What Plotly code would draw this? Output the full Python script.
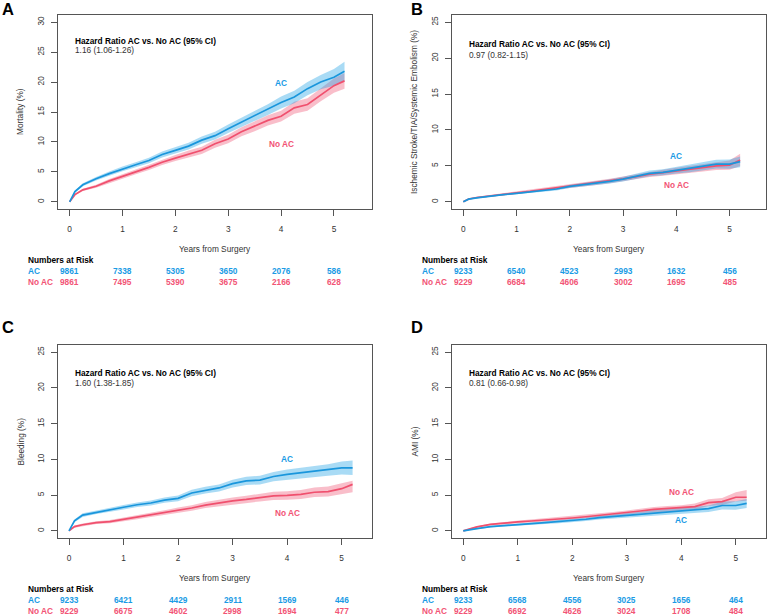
import plotly.graph_objects as go

W, H = 768, 615

# ---------------- data ----------------
times = [0, 0.1, 0.25, 0.5, 0.75, 1, 1.25, 1.5, 1.75, 2, 2.25, 2.5, 2.75,
         3, 3.25, 3.5, 3.75, 4, 4.25, 4.5, 4.75, 5, 5.2]

# Panel A - Mortality
A_ac     = [0, 1.7, 2.85, 3.85, 4.7, 5.5, 6.2, 6.9, 7.9, 8.6, 9.3, 10.3, 11.05,
            12.2, 13.3, 14.3, 15.4, 16.6, 17.5, 18.9, 20.0, 20.8, 21.8]
A_ac_lo  = [0, 1.5, 2.6, 3.55, 4.35, 5.1, 5.8, 6.45, 7.4, 8.1, 8.75, 9.7, 10.4,
            11.5, 12.55, 13.5, 14.5, 15.6, 16.45, 17.8, 18.8, 19.4, 20.2]
A_ac_hi  = [0, 1.9, 3.1, 4.15, 5.05, 5.9, 6.6, 7.35, 8.4, 9.1, 9.85, 10.9, 11.7,
            12.9, 14.05, 15.1, 16.3, 17.6, 18.55, 20.0, 21.2, 22.2, 23.4]
A_no     = [0, 1.2, 2.0, 2.6, 3.5, 4.2, 5.0, 5.75, 6.6, 7.3, 8.0, 8.6, 9.7,
            10.5, 11.7, 12.6, 13.6, 14.3, 15.7, 16.25, 17.9, 19.4, 20.2]
A_no_lo  = [0, 1.05, 1.8, 2.35, 3.2, 3.85, 4.6, 5.3, 6.15, 6.8, 7.45, 8.0, 9.05,
            9.8, 10.95, 11.8, 12.75, 13.4, 14.7, 15.2, 16.8, 18.2, 18.9]
A_no_hi  = [0, 1.35, 2.2, 2.85, 3.8, 4.55, 5.4, 6.2, 7.05, 7.8, 8.55, 9.2, 10.35,
            11.2, 12.45, 13.4, 14.45, 15.2, 16.7, 17.3, 19.0, 20.6, 21.5]

# Panel B - Ischemic stroke / TIA / systemic embolism
B_ac     = [0, 0.37, 0.56, 0.8, 1.0, 1.17, 1.36, 1.6, 1.78, 2.15, 2.35, 2.6, 2.85,
            3.15, 3.55, 3.95, 4.1, 4.4, 4.6, 4.9, 5.25, 5.25, 5.6]
B_ac_lo  = [0, 0.3, 0.47, 0.7, 0.88, 1.03, 1.2, 1.42, 1.58, 1.93, 2.1, 2.33, 2.55,
            2.82, 3.18, 3.55, 3.68, 3.95, 4.1, 4.35, 4.65, 4.6, 4.8]
B_ac_hi  = [0, 0.44, 0.65, 0.9, 1.12, 1.31, 1.52, 1.78, 1.98, 2.37, 2.6, 2.87, 3.15,
            3.48, 3.92, 4.35, 4.52, 4.85, 5.1, 5.45, 5.85, 5.9, 6.3]
B_no     = [0, 0.4, 0.6, 0.85, 1.05, 1.25, 1.45, 1.7, 1.95, 2.2, 2.4, 2.6, 2.9,
            3.2, 3.5, 3.85, 4.05, 4.3, 4.5, 4.75, 5.0, 5.1, 5.8]
B_no_lo  = [0, 0.33, 0.5, 0.75, 0.93, 1.1, 1.29, 1.52, 1.75, 1.98, 2.15, 2.33, 2.6,
            2.88, 3.15, 3.47, 3.63, 3.85, 4.0, 4.22, 4.42, 4.45, 5.0]
B_no_hi  = [0, 0.47, 0.7, 0.95, 1.17, 1.4, 1.61, 1.88, 2.15, 2.42, 2.65, 2.87, 3.2,
            3.52, 3.85, 4.23, 4.47, 4.75, 5.0, 5.28, 5.58, 5.75, 6.7]

# Panel C - Bleeding
C_ac     = [0, 1.4, 2.2, 2.6, 3.0, 3.3, 3.65, 3.9, 4.3, 4.55, 5.3, 5.7, 6.0,
            6.6, 7.0, 7.1, 7.6, 7.9, 8.1, 8.3, 8.5, 8.8, 8.8]
C_ac_lo  = [0, 1.2, 1.95, 2.35, 2.72, 3.0, 3.33, 3.55, 3.92, 4.15, 4.85, 5.22, 5.5,
            6.05, 6.42, 6.5, 6.95, 7.2, 7.37, 7.53, 7.7, 7.9, 7.8]
C_ac_hi  = [0, 1.6, 2.45, 2.85, 3.28, 3.6, 3.97, 4.25, 4.68, 4.95, 5.75, 6.18, 6.5,
            7.15, 7.58, 7.7, 8.25, 8.6, 8.83, 9.07, 9.3, 9.7, 9.85]
C_no     = [0, 0.6, 0.85, 1.15, 1.3, 1.6, 1.9, 2.25, 2.55, 2.9, 3.2, 3.6, 3.95,
            4.2, 4.4, 4.65, 4.9, 4.95, 5.1, 5.4, 5.5, 5.9, 6.5]
C_no_lo  = [0, 0.45, 0.68, 0.95, 1.08, 1.36, 1.63, 1.95, 2.23, 2.55, 2.82, 3.18, 3.5,
            3.72, 3.9, 4.12, 4.33, 4.35, 4.47, 4.73, 4.8, 5.15, 5.4]
C_no_hi  = [0, 0.75, 1.02, 1.35, 1.52, 1.84, 2.17, 2.55, 2.87, 3.25, 3.58, 4.02, 4.4,
            4.68, 4.9, 5.18, 5.47, 5.55, 5.73, 6.07, 6.2, 6.65, 7.0]

# Panel D - AMI
D_ac     = [0, 0.15, 0.3, 0.6, 0.7, 0.8, 1.0, 1.15, 1.28, 1.4, 1.62, 1.85, 2.0,
            2.15, 2.35, 2.55, 2.68, 2.8, 2.95, 3.1, 3.55, 3.55, 3.85]
D_ac_lo  = [0, 0.1, 0.22, 0.48, 0.57, 0.66, 0.84, 0.97, 1.08, 1.18, 1.38, 1.59, 1.72,
            1.85, 2.02, 2.2, 2.3, 2.4, 2.52, 2.65, 3.0, 2.95, 3.2]
D_ac_hi  = [0, 0.2, 0.38, 0.72, 0.84, 0.95, 1.16, 1.33, 1.48, 1.62, 1.86, 2.11, 2.28,
            2.45, 2.68, 2.9, 3.06, 3.2, 3.38, 3.55, 4.1, 4.15, 4.45]
D_no     = [0, 0.25, 0.55, 0.9, 1.1, 1.25, 1.38, 1.5, 1.65, 1.8, 1.97, 2.15, 2.35,
            2.55, 2.78, 3.0, 3.1, 3.2, 3.4, 3.95, 4.1, 4.7, 4.7]
D_no_lo  = [0, 0.18, 0.45, 0.77, 0.95, 1.08, 1.2, 1.31, 1.44, 1.58, 1.73, 1.9, 2.07,
            2.25, 2.46, 2.65, 2.73, 2.82, 2.98, 3.48, 3.6, 4.1, 4.2]
D_no_hi  = [0, 0.32, 0.65, 1.03, 1.25, 1.42, 1.56, 1.69, 1.86, 2.02, 2.21, 2.4, 2.63,
            2.85, 3.1, 3.35, 3.47, 3.58, 3.82, 4.42, 4.6, 5.4, 5.7]

risk_times = [0, 1, 2, 3, 4, 5]
A_risk_ac = [9861, 7338, 5305, 3650, 2076, 586]
A_risk_no = [9861, 7495, 5390, 3675, 2166, 628]
B_risk_ac = [9233, 6540, 4523, 2993, 1632, 456]
B_risk_no = [9229, 6684, 4606, 3002, 1695, 485]
C_risk_ac = [9233, 6421, 4429, 2911, 1569, 446]
C_risk_no = [9229, 6675, 4602, 2998, 1694, 477]
D_risk_ac = [9233, 6568, 4556, 3025, 1656, 464]
D_risk_no = [9229, 6692, 4626, 3024, 1708, 484]

y_titles = ["Mortality (%)", "Ischemic Stroke/TIA/Systemic Embolism (%)",
            "Bleeding (%)", "AMI (%)"]
hr_texts = ["1.16 (1.06-1.26)", "0.97 (0.82-1.15)", "1.60 (1.38-1.85)",
            "0.81 (0.66-0.98)"]
panel_letters = ["A", "B", "C", "D"]
group_names = ["AC", "No AC"]

# ---------------- styling ----------------
FONT = "Liberation Sans, Arial, Helvetica, sans-serif"
BLUE = "#1a96dc"
RED = "#f0506e"
BLUE_TXT = "#1a9be5"
RED_TXT = "#f25475"
BLUE_BAND = "rgba(30,160,230,0.38)"
RED_BAND = "rgba(240,80,110,0.37)"
AX = "#555555"
TXT = "#333333"
FS = 8.3


def px(x):
    return x / W


def py(y):
    return 1 - y / H


panels = [
    dict(ac=A_ac, aclo=A_ac_lo, achi=A_ac_hi, no=A_no, nolo=A_no_lo, nohi=A_no_hi,
         rac=A_risk_ac, rno=A_risk_no, box=(58, 372, 15, 209), xr=[-0.22, 5.72],
         yr=[-1.2, 31.2], ymax=30, lab_ac=(4.0, 19.8), lab_no=(4.0, 9.7),
         hr_x=73.3, hr_y=(41, 50), letter=(8, 9), ytx=20),
    dict(ac=B_ac, aclo=B_ac_lo, achi=B_ac_hi, no=B_no, nolo=B_no_lo, nohi=B_no_hi,
         rac=B_risk_ac, rno=B_risk_no, box=(452.3, 765.7, 15, 209), xr=[-0.207, 5.68],
         yr=[-1, 26], ymax=25, lab_ac=(4.0, 6.4), lab_no=(4.0, 2.3),
         hr_x=466.7, hr_y=(44, 55), letter=(417, 9), ytx=414),
    dict(ac=C_ac, aclo=C_ac_lo, achi=C_ac_hi, no=C_no, nolo=C_no_lo, nohi=C_no_hi,
         rac=C_risk_ac, rno=C_risk_no, box=(58, 372, 345, 538), xr=[-0.202, 5.556],
         yr=[-1, 26], ymax=25, lab_ac=(4.0, 10.0), lab_no=(4.0, 2.45),
         hr_x=72.7, hr_y=(373.3, 383.3), letter=(8, 327), ytx=20),
    dict(ac=D_ac, aclo=D_ac_lo, achi=D_ac_hi, no=D_no, nolo=D_no_lo, nohi=D_no_hi,
         rac=D_risk_ac, rno=D_risk_no, box=(452.3, 765.7, 345, 538), xr=[-0.201, 5.549],
         yr=[-1, 26], ymax=25, lab_ac=(4.0, 1.5), lab_no=(4.0, 5.5),
         hr_x=466.7, hr_y=(373.3, 383.3), letter=(417, 327), ytx=414),
]

fig = go.Figure()
annotations = []
layout_axes = {}

for i, p in enumerate(panels):
    n = i + 1
    xa = "x" if n == 1 else f"x{n}"
    ya = "y" if n == 1 else f"y{n}"
    x0, x1, y0, y1 = p["box"]

    # CI bands
    for lo, hi, col in [(p["nolo"], p["nohi"], RED_BAND), (p["aclo"], p["achi"], BLUE_BAND)]:
        fig.add_trace(go.Scatter(x=times + times[::-1], y=hi + lo[::-1], fill="toself",
                                 fillcolor=col, line=dict(width=0), mode="lines",
                                 hoverinfo="skip", showlegend=False, xaxis=xa, yaxis=ya))
    # curves
    fig.add_trace(go.Scatter(x=times, y=p["no"], mode="lines", name="No AC",
                             line=dict(color=RED, width=1.7), showlegend=False,
                             xaxis=xa, yaxis=ya))
    fig.add_trace(go.Scatter(x=times, y=p["ac"], mode="lines", name="AC",
                             line=dict(color=BLUE, width=1.7), showlegend=False,
                             xaxis=xa, yaxis=ya))

    common = dict(showline=True, mirror=True, linecolor=AX, linewidth=1,
                  ticks="outside", ticklen=6, tickcolor=AX, tickwidth=1,
                  showgrid=False, zeroline=False,
                  tickfont=dict(family=FONT, size=FS, color=TXT))
    layout_axes["xaxis" if n == 1 else f"xaxis{n}"] = dict(
        domain=[px(x0), px(x1)], range=p["xr"], anchor=ya,
        tickvals=risk_times, ticklabelstandoff=6, **common)
    layout_axes["yaxis" if n == 1 else f"yaxis{n}"] = dict(
        domain=[py(y1), py(y0)], range=p["yr"], anchor=xa,
        tickvals=list(range(0, p["ymax"] + 1, 5)), tickangle=-90,
        ticklabelstandoff=4, **common)

    # panel letter
    annotations.append(dict(text=f"<b>{panel_letters[i]}</b>", x=px(p["letter"][0]),
                            y=py(p["letter"][1]), xref="paper", yref="paper",
                            xanchor="center", yanchor="middle", showarrow=False,
                            font=dict(family=FONT, size=16.5, color="black")))
    # y title
    annotations.append(dict(text=y_titles[i], x=px(p["ytx"]), y=py((y0 + y1) / 2),
                            xref="paper", yref="paper", textangle=-90,
                            xanchor="center", yanchor="middle", showarrow=False,
                            font=dict(family=FONT, size=FS, color=TXT)))
    # x title
    annotations.append(dict(text="Years from Surgery", x=px((x0 + x1) / 2),
                            y=py(y1 + 40), xref="paper", yref="paper",
                            xanchor="center", yanchor="middle", showarrow=False,
                            font=dict(family=FONT, size=FS, color=TXT)))
    # HR text
    annotations.append(dict(text="<b>Hazard Ratio AC vs. No AC (95% CI)</b>",
                            x=px(p["hr_x"]), y=py(p["hr_y"][0]), xref="paper",
                            yref="paper", xanchor="left", yanchor="middle",
                            showarrow=False, font=dict(family=FONT, size=FS, color="black")))
    annotations.append(dict(text=hr_texts[i], x=px(p["hr_x"]), y=py(p["hr_y"][1]),
                            xref="paper", yref="paper", xanchor="left",
                            yanchor="middle", showarrow=False,
                            font=dict(family=FONT, size=FS, color=TXT)))
    # curve labels
    annotations.append(dict(text="<b>AC</b>", x=p["lab_ac"][0], y=p["lab_ac"][1],
                            xref=xa, yref=ya, showarrow=False,
                            font=dict(family=FONT, size=FS, color=BLUE_TXT)))
    annotations.append(dict(text="<b>No AC</b>", x=p["lab_no"][0], y=p["lab_no"][1],
                            xref=xa, yref=ya, showarrow=False,
                            font=dict(family=FONT, size=FS, color=RED_TXT)))
    # numbers at risk
    lx = x0 - 32 if n in (1, 3) else x0 - 32.3
    annotations.append(dict(text="<b>Numbers at Risk</b>", x=px(lx), y=py(y1 + 51),
                            xref="paper", yref="paper", xanchor="left",
                            yanchor="middle", showarrow=False,
                            font=dict(family=FONT, size=FS, color="black")))
    for row, (gname, vals, col) in enumerate([(group_names[0], p["rac"], BLUE_TXT),
                                              (group_names[1], p["rno"], RED_TXT)]):
        yy = py(y1 + 62 + 11 * row)
        annotations.append(dict(text=f"<b>{gname}</b>", x=px(lx), y=yy, xref="paper",
                                yref="paper", xanchor="left", yanchor="middle",
                                showarrow=False, font=dict(family=FONT, size=FS, color=col)))
        for t, v in zip(risk_times, vals):
            annotations.append(dict(text=f"<b>{v}</b>", x=t, y=yy, xref=xa,
                                    yref="paper", xanchor="center", yanchor="middle",
                                    showarrow=False,
                                    font=dict(family=FONT, size=FS, color=col)))

fig.update_layout(width=W, height=H, margin=dict(l=0, r=0, t=0, b=0),
                  paper_bgcolor="white", plot_bgcolor="white",
                  showlegend=False, annotations=annotations, **layout_axes)

fig.write_html("out.html", config={"displayModeBar": False},
               post_script="document.body.style.margin='0px';"
                           "document.body.style.overflow='hidden';")
